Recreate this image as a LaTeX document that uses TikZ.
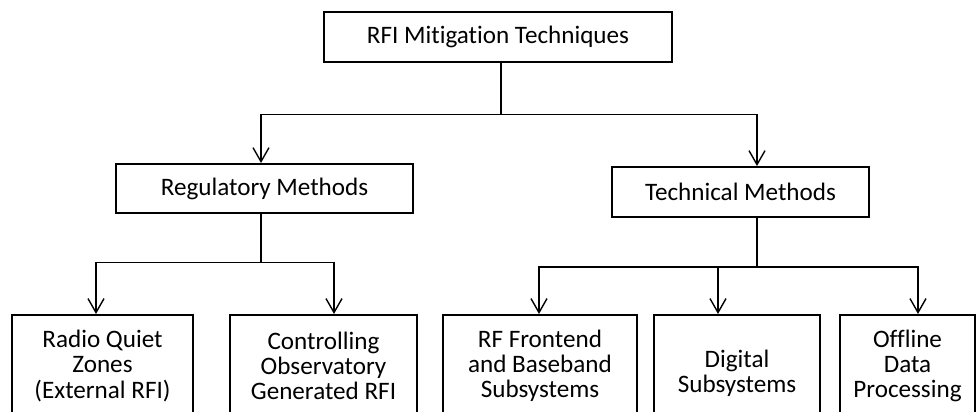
\documentclass[tikz,border=0pt]{standalone}
\usepackage{fontspec}
\setmainfont{Carlito}[Ligatures=NoCommon]
\usetikzlibrary{arrows.meta}

\tikzset{
  box/.style={draw, line width=1.1pt, align=center, inner sep=0pt,
    font=\fontsize{14.3}{14.3}\selectfont},
  leaf/.style={box, anchor=north, minimum height=2.04cm},
  link/.style={line width=0.8pt, -{Straight Barb[length=0.28cm, width=0.32cm]}},
}

\begin{document}
\begin{tikzpicture}
    \useasboundingbox (0,0) rectangle (19.56,-8.24);
    \clip (0,0) rectangle (19.56,-8.24);

    % Nodes
    \node[box, minimum width=6.96cm, minimum height=1cm] (rfi) at (9.96,-0.74) {RFI Mitigation Techniques};
    \node[box, minimum width=5.94cm, minimum height=0.98cm] (reg) at (5.29,-3.77) {Regulatory Methods};
    \node[box, minimum width=5.14cm, minimum height=1cm] (tech) at (14.81,-3.84) {Technical Methods};

    \node[leaf, minimum width=3.62cm] (quiet) at (2.05,-6.28) {Radio Quiet\\Zones\\(External RFI)};
    \node[leaf, minimum width=3.74cm] (obs) at (6.47,-6.28) {Controlling\\Observatory\\Generated RFI};
    \node[leaf, minimum width=3.88cm] (rf) at (10.80,-6.28) {RF Frontend\\and Baseband\\Subsystems};
    \node[leaf, minimum width=3.32cm, minimum height=2.34cm] (digital) at (14.74,-6.28) {Digital\\Subsystems};
    \node[leaf, minimum width=2.70cm] (offline) at (18.15,-6.28) {Offline\\Data\\Processing};

    % Edges
    \draw[line width=0.8pt] ([xshift=0.06cm]rfi.south) -- ++(0,-1.03) coordinate (topbus);
    \draw[link] (topbus) -| ([xshift=-0.07cm]reg.north);
    \draw[link] (topbus) -| ([xshift=0.33cm]tech.north);

    \draw[line width=0.8pt] ([xshift=-0.07cm]reg.south) -- ++(0,-0.97) coordinate (regbus);
    \draw[link] (regbus) -| ([xshift=-0.13cm]quiet.north);
    \draw[link] (regbus) -| ([xshift=0.21cm]obs.north);

    \draw[line width=0.8pt] ([xshift=0.33cm]tech.south) -- ++(0,-0.98) coordinate (techbus);
    \draw[link] (techbus) -| ([xshift=-0.02cm]rf.north);
    \draw[link] (techbus) -| ([xshift=-0.38cm]digital.north);
    \draw[link] (techbus) -| ([xshift=0.21cm]offline.north);
\end{tikzpicture}
\end{document}
